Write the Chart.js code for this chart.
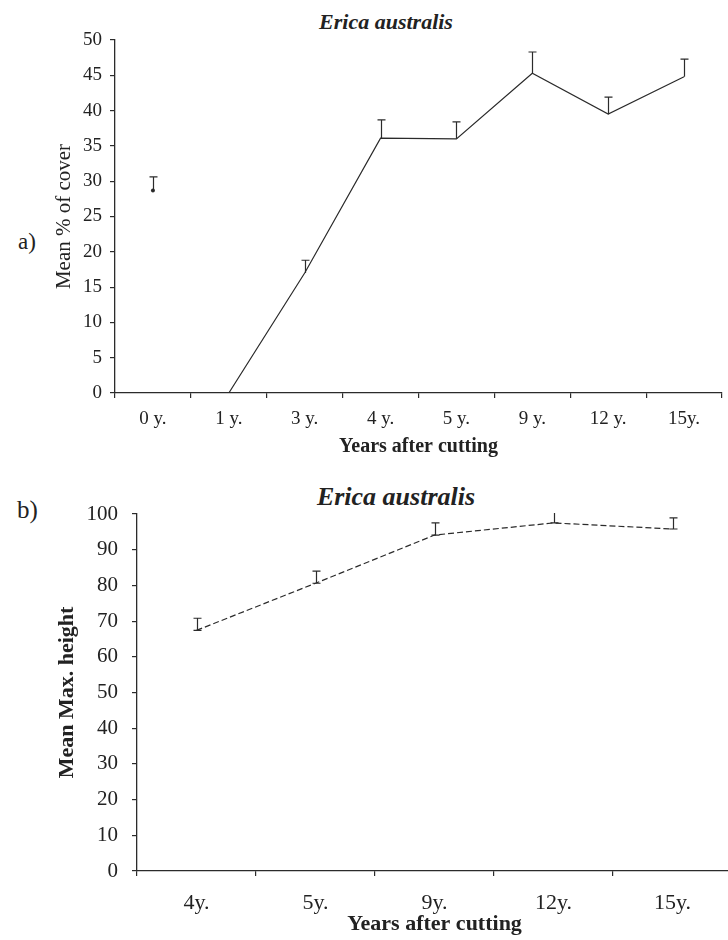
<!DOCTYPE html>
<html>
<head>
<meta charset="utf-8">
<script src="https://cdn.jsdelivr.net/npm/chart.js@4.4.1/dist/chart.umd.min.js"></script>
<style>
html, body { margin: 0; padding: 0; background: #fff; overflow: hidden; }
body { width: 728px; height: 940px; position: relative; font-family: "Liberation Serif", serif; color: #222; }
canvas { position: absolute; left: 0; }
.lbl { position: absolute; line-height: 1; white-space: nowrap; }
.ttl { font-weight: bold; font-style: italic; transform: translateX(-50%); }
</style>
</head>
<body>
<div class="lbl" style="left:18px; top:230px; font-size:23px;">a)</div>
<div class="lbl" style="left:17px; top:497px; font-size:25px;">b)</div>
<div class="lbl ttl" style="left:386px; top:11px; font-size:22px;">Erica australis</div>
<div class="lbl ttl" style="left:396px; top:484px; font-size:26px;">Erica australis</div>
<canvas id="coverChart" width="728" height="460" style="top:0; width:728px; height:460px;"></canvas>
<canvas id="heightChart" width="732" height="470" style="top:470px; width:732px; height:470px;"></canvas>
<script>
// DATA ----------------------------------------------------------------------
var coverYears = ["0 y.", "1 y.", "3 y.", "4 y.", "5 y.", "9 y.", "12 y.", "15y."];
var coverMean = [null, 0, 17.0, 36.1, 36.0, 45.3, 39.5, 44.8];
var coverMeanErr = [null, null, 1.8, 2.6, 2.4, 3.0, 2.4, 2.5];
var coverUncut = [28.7, null, null, null, null, null, null, null];
var coverUncutErr = [1.9, null, null, null, null, null, null, null];
var coverTicks = [0, 5, 10, 15, 20, 25, 30, 35, 40, 45, 50];

var heightYears = ["4y.", "5y.", "9y.", "12y.", "15y."];
var heightMean = [67.4, 80.6, 94.1, 97.5, 95.8];
var heightErr = [3.4, 3.4, 3.4, 3.3, 3.1];
var heightTicks = [0, 10, 20, 30, 40, 50, 60, 70, 80, 90, 100];

var FONT = "'Liberation Serif', 'Times New Roman', serif";
var INK = "#2b2b2b";

// ERROR BARS (upper only) ----------------------------------------------------
var errorBars = {
  id: "errorBars",
  afterDatasetsDraw: function(chart, args, opts) {
    var ctx = chart.ctx;
    var xs = chart.scales.x, ys = chart.scales.y, area = chart.chartArea;
    ctx.save();
    ctx.beginPath();
    ctx.rect(area.left, area.top - 1, area.right - area.left, area.bottom - area.top + 2);
    ctx.clip();
    ctx.strokeStyle = INK;
    ctx.lineWidth = 1.2;
    chart.data.datasets.forEach(function(ds) {
      if (!ds.errUp) return;
      ds.data.forEach(function(v, i) {
        var e = ds.errUp[i];
        if (v == null || e == null) return;
        var px = Math.round(xs.getPixelForValue(i)) + 0.5;
        var y0 = ys.getPixelForValue(v);
        var y1 = ys.getPixelForValue(v + e);
        ctx.beginPath();
        ctx.moveTo(px, y0);
        ctx.lineTo(px, y1);
        ctx.moveTo(px - opts.cap, y1);
        ctx.lineTo(px + opts.cap, y1);
        if (opts.bottomCap) {
          ctx.moveTo(px - opts.cap, y0);
          ctx.lineTo(px + opts.cap, y0);
        }
        ctx.stroke();
      });
    });
    ctx.restore();
  }
};

function axisX(title, tickSize, titleSize, tickPad, titlePad, height) {
  return {
    type: "category",
    offset: true,
    grid: { offset: true, drawOnChartArea: false, drawTicks: true, tickLength: 5, color: INK, lineWidth: 1.2 },
    border: { display: true, color: INK, width: 1.3 },
    ticks: { color: "#222", padding: tickPad, autoSkip: false, maxRotation: 0, font: { family: FONT, size: tickSize } },
    title: { display: true, text: title, color: "#222", padding: { top: 0, bottom: titlePad },
             font: { family: FONT, size: titleSize, weight: "bold" } },
    afterFit: function(s) { s.height = height; }
  };
}

function axisY(title, ticks, tickSize, titleSize, titleWeight, tickPad, titlePad, width) {
  return {
    min: ticks[0],
    max: ticks[ticks.length - 1],
    afterBuildTicks: function(s) { s.ticks = ticks.map(function(v) { return { value: v }; }); },
    grid: { drawOnChartArea: false, drawTicks: true, tickLength: 5, color: INK, lineWidth: 1.2 },
    border: { display: true, color: INK, width: 1.3 },
    ticks: { color: "#222", padding: tickPad, font: { family: FONT, size: tickSize } },
    title: { display: true, text: title, color: "#222", padding: { top: titlePad, bottom: 0 },
             font: { family: FONT, size: titleSize, weight: titleWeight } },
    afterFit: function(s) { s.width = width; }
  };
}

var common = {
  responsive: false,
  animation: false,
  devicePixelRatio: 1,
  plugins: { legend: { display: false }, tooltip: { enabled: false } }
};

// a) COVER ---------------------------------------------------------------------
new Chart(document.getElementById("coverChart"), {
  type: "line",
  data: {
    labels: coverYears,
    datasets: [
      { data: coverMean, errUp: coverMeanErr, borderColor: INK, borderWidth: 1.2,
        pointRadius: 0, tension: 0, spanGaps: false },
      { data: coverUncut, errUp: coverUncutErr, showLine: false, pointRadius: 2,
        pointBackgroundColor: INK, pointBorderWidth: 0 }
    ]
  },
  options: Object.assign({}, common, {
    layout: { padding: { top: 40, right: 6, left: 0, bottom: 0 } },
    plugins: Object.assign({}, common.plugins, { errorBars: { cap: 4, bottomCap: false } }),
    scales: {
      x: axisX("Years after cutting", 19, 20, 10, 1, 67),
      y: axisY("Mean % of cover", coverTicks, 19, 21, "normal", 8, 52, 115)
    }
  }),
  plugins: [errorBars]
});

// b) HEIGHT --------------------------------------------------------------------
new Chart(document.getElementById("heightChart"), {
  type: "line",
  data: {
    labels: heightYears,
    datasets: [
      { data: heightMean, errUp: heightErr, borderColor: INK, borderWidth: 1.2,
        borderDash: [6, 3], pointRadius: 0, tension: 0 }
    ]
  },
  options: Object.assign({}, common, {
    layout: { padding: { top: 44, right: 0, left: 0, bottom: 0 } },
    plugins: Object.assign({}, common.plugins, { errorBars: { cap: 4, bottomCap: true } }),
    scales: {
      x: axisX("Years after cutting", 22, 22, 14, 2, 69),
      y: axisY("Mean Max. height", heightTicks, 21, 22, "bold", 14, 54, 137)
    }
  }),
  plugins: [errorBars]
});
</script>
</body>
</html>
